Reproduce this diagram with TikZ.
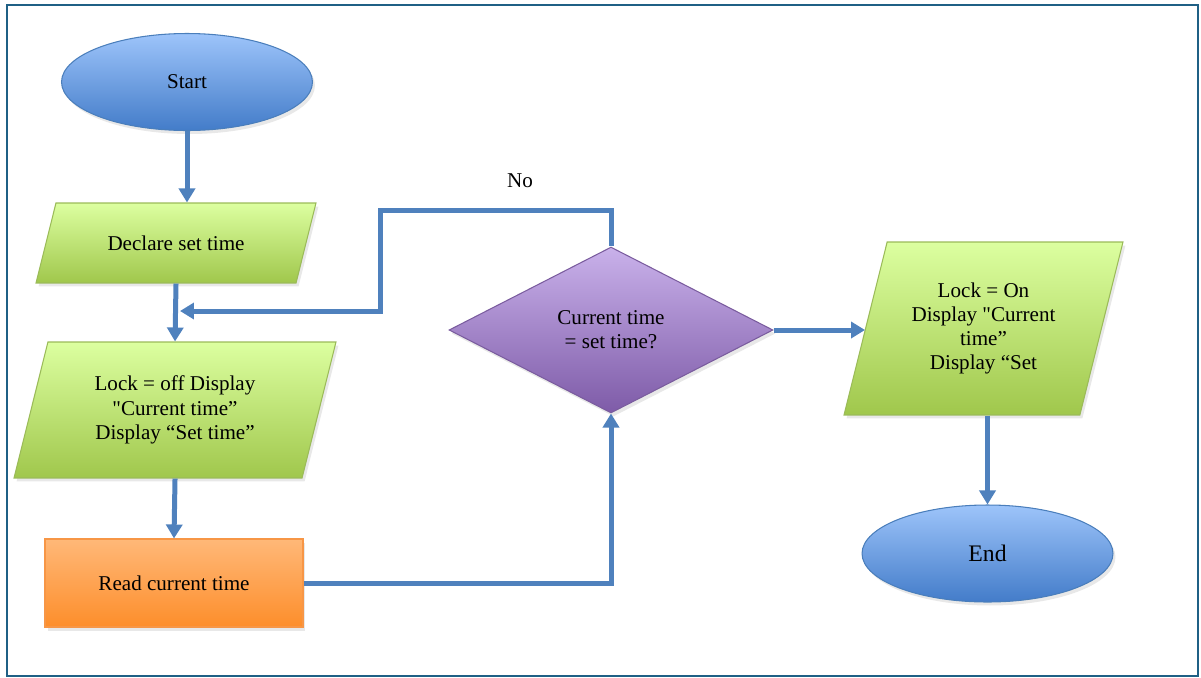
\documentclass[tikz,border=0pt]{standalone}
\usepackage{fontspec}
\setmainfont{Liberation Serif}[Ligatures=TeXOff]
\usetikzlibrary{shapes.geometric,arrows.meta,shadows}

\definecolor{flowblue}{HTML}{4F81BD}
\definecolor{framecol}{HTML}{1F6085}
\definecolor{ovaltop}{HTML}{9DC4FA}
\definecolor{ovalbot}{HTML}{437CC9}
\definecolor{ovalline}{HTML}{4A7EBB}
\definecolor{iotop}{HTML}{DCFFA0}
\definecolor{iobot}{HTML}{A0C74C}
\definecolor{ioline}{HTML}{9BBB59}
\definecolor{proctop}{HTML}{FFB878}
\definecolor{procbot}{HTML}{FD8E2B}
\definecolor{procline}{HTML}{F79646}
\definecolor{dectop}{HTML}{C9B1EA}
\definecolor{decbot}{HTML}{7E5BA8}
\definecolor{decline}{HTML}{7A5C9E}

% text block of fixed height, so the slant follows the full height
\newcommand{\iolines}[2]{\parbox[c][#1][c]{3.4cm}{\centering #2}}

\tikzset{
  box/.style={draw, line width=0.6pt, align=center, inner sep=2pt,
    font=\fontsize{12}{13.8}\selectfont,
    drop shadow={opacity=0.18, shadow xshift=0.05cm, shadow yshift=-0.07cm}},
  terminal/.style={box, ellipse, draw=ovalline, top color=ovaltop, bottom color=ovalbot,
    minimum width=5.02cm, minimum height=1.94cm},
  iobox/.style={box, trapezium, trapezium left angle=76, trapezium right angle=104,
    trapezium stretches body, inner sep=0pt, draw=ioline, top color=iotop, bottom color=iobot},
  procbox/.style={box, rectangle, draw=procline, top color=proctop, bottom color=procbot,
    minimum width=5.16cm, minimum height=1.76cm},
  decbox/.style={box, diamond, draw=decline, top color=dectop, bottom color=decbot,
    minimum width=6.48cm, minimum height=3.32cm, inner sep=0pt},
  flow/.style={draw=flowblue, line width=0.1cm, -{Triangle[width=0.32cm,length=0.28cm]}},
}

\begin{document}
\begin{tikzpicture}[x=0.02cm,y=-0.02cm]
\useasboundingbox (0,0) rectangle (1201,677);
\draw [framecol, line width=0.04cm] (7,5) rectangle (1198,676);

\node [terminal] (start) at (187,82) {Start};
\node [iobox, minimum width=5.6cm] (declare) at (176,243) {\iolines{1.6cm}{Declare set time}};
\node [iobox, minimum width=6.44cm] (lockoff) at (175,410) {\iolines{2.72cm}{Lock = off Display\\"Current time”\\Display “Set time”}};
\node [procbox] (read) at (174,583) {Read current time};
\node [decbox] (check) at (611,330) {Current time\\= set time?};
\node [iobox, minimum width=5.58cm] (lockon) at (983.5,328.5) {\iolines{3.46cm}{Lock = On\\Display "Current\\time”\\Display “Set}};
\node [terminal, font=\fontsize{13.5}{15}\selectfont] (end) at (987.5,553.5) {End};
\node [font=\fontsize{12}{13.8}\selectfont] (no) at (520,181) {No};

\coordinate (nocorner) at (380,210);
\coordinate (merge) at (180,311);

\draw [flow] (start.south) -- (start.south |- declare.north);
\draw [flow] (declare.south) -- (lockoff.north);
\draw [flow] (lockoff.south) -- (read.north);
\draw [flow] (read.east) -| (check.south);
\draw [flow] (check.east) -- (check.east -| lockon.left side);
\draw [flow] (end.north |- lockon.south) -- (end.north);
\draw [flow] (check.north) |- (nocorner) |- (merge);
\end{tikzpicture}
\end{document}
